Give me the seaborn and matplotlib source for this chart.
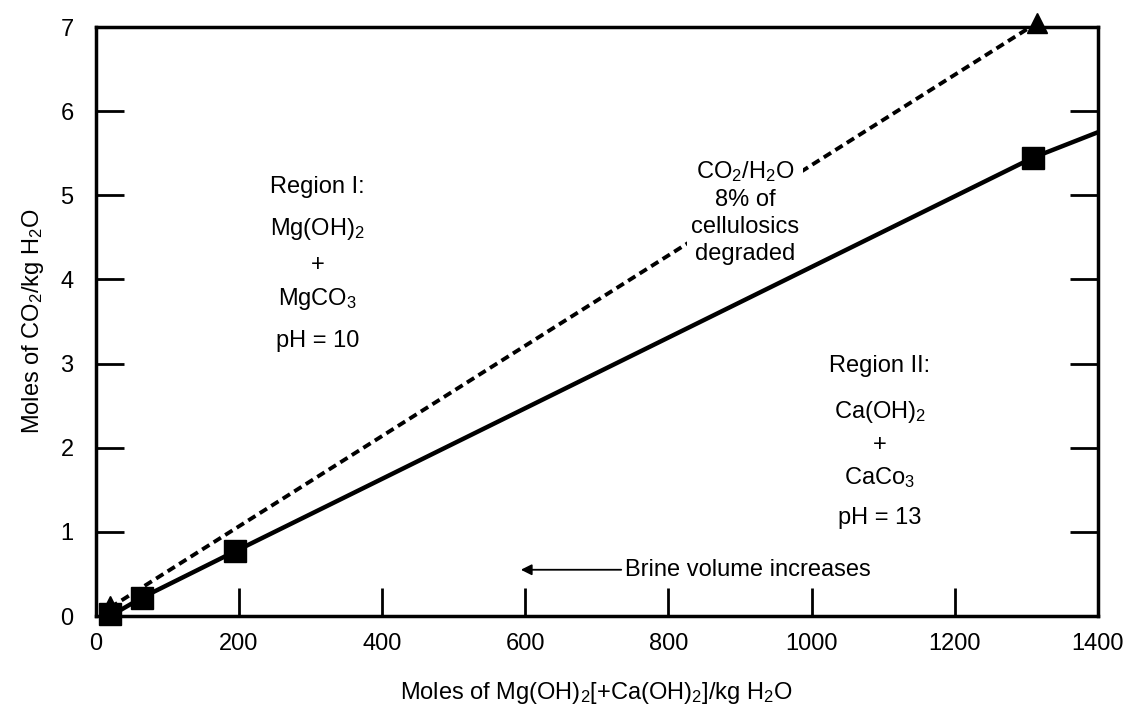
import matplotlib
matplotlib.use("Agg")
import matplotlib.pyplot as plt
import seaborn as sns
import pandas as pd

# Data
square_x = [20, 65, 195, 1310]
square_y = [0.03, 0.22, 0.77, 5.45]
solid_x = [20, 65, 195, 1310, 1400]
solid_y = [0.0, 0.22, 0.77, 5.45, 5.75]
tri_x = [20, 1315]
tri_y = [0.12, 7.05]
dash_x = [20, 1315]
dash_y = [0.1, 7.05]
x_ticks = [0, 200, 400, 600, 800, 1000, 1200, 1400]
y_ticks = [0, 1, 2, 3, 4, 5, 6, 7]

sns.set_theme(style="ticks")
plt.rcParams['font.family'] = ['Liberation Sans', 'DejaVu Sans']
plt.rcParams['mathtext.default'] = 'regular'
plt.rcParams['text.color'] = 'black'
plt.rcParams['axes.labelcolor'] = 'black'

fig = plt.figure(figsize=(11.4, 7.13), dpi=100)
ax = fig.add_axes([0.084, 0.136, 0.879, 0.826])

solid_df = pd.DataFrame({"x": solid_x, "y": solid_y})
dash_df = pd.DataFrame({"x": dash_x, "y": dash_y})
sq_df = pd.DataFrame({"x": square_x, "y": square_y})
tri_df = pd.DataFrame({"x": tri_x, "y": tri_y})

sns.lineplot(data=dash_df, x="x", y="y", ax=ax, color="black", lw=2.8,
             linestyle=(0, (2.2, 1.3)), zorder=2)
sns.lineplot(data=solid_df, x="x", y="y", ax=ax, color="black", lw=3.2, zorder=3.5)
ax.plot(sq_df["x"], sq_df["y"], linestyle="none", marker="s", markersize=16,
        color="black", zorder=4, clip_on=False)
ax.plot(tri_df["x"], tri_df["y"], linestyle="none", marker="^", markersize=15,
        color="black", zorder=4, clip_on=False)

ax.set_xlim(0, 1400)
ax.set_ylim(0, 7)
ax.set_xticks(x_ticks)
ax.set_yticks(y_ticks)
ax.tick_params(axis="both", direction="in", length=20, width=2, labelsize=17,
               colors="black", pad=12)
ax.tick_params(axis="y", right=True, left=True, pad=16)
ax.tick_params(axis="x", top=False, bottom=True)
for s in ax.spines.values():
    s.set_linewidth(2.5)
    s.set_color("black")
    s.set_visible(True)

ax.set_xlabel("Moles of Mg(OH)$_2$[+Ca(OH)$_2$]/kg H$_2$O", fontsize=17, labelpad=18)
ax.set_ylabel("Moles of CO$_2$/kg H$_2$O", fontsize=17, labelpad=10)

fs = 17
# Region I
for txt, yy in [("Region I:", 5.1), ("Mg(OH)$_2$", 4.6), ("+", 4.17),
                ("MgCO$_3$", 3.77), ("pH = 10", 3.27)]:
    ax.text(310, yy, txt, ha="center", va="center", fontsize=fs)
# Region II
for txt, yy in [("Region II:", 2.97), ("Ca(OH)$_2$", 2.42), ("+", 2.03),
                ("CaCo$_3$", 1.65), ("pH = 13", 1.16)]:
    ax.text(1095, yy, txt, ha="center", va="center", fontsize=fs)
# CO2/H2O label
ax.text(907, 4.8, "CO$_2$/H$_2$O\n8% of\ncellulosics\ndegraded", ha="center",
        va="center", fontsize=fs, linespacing=1.3, zorder=3,
        bbox=dict(facecolor="white", edgecolor="none", pad=3))

# Brine arrow
ax.annotate("", xy=(590, 0.55), xytext=(738, 0.55),
            arrowprops=dict(arrowstyle="-|>", color="black", lw=1.3,
                            mutation_scale=16))
ax.text(740, 0.55, "Brine volume increases", ha="left", va="center", fontsize=fs)

fig.savefig("out.png", dpi=100, facecolor="white")
